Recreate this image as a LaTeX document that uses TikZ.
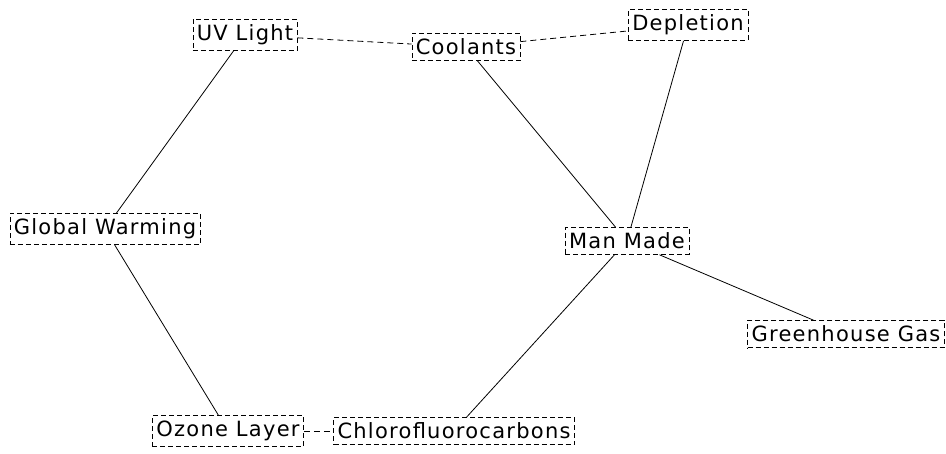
\documentclass[tikz,border=0pt]{standalone}
\usepackage{fontspec}
\setmainfont{DejaVu Sans}[LetterSpace=6]
\usetikzlibrary{calc}

\begin{document}
\begin{tikzpicture}[x=1pt, y=-1pt,
    box/.style={draw, dash pattern=on 5pt off 3pt, inner xsep=4pt, inner ysep=5.5pt, font=\fontsize{21}{24}\selectfont},
    link/.style={line width=0.8pt},
    weak/.style={line width=0.8pt, dash pattern=on 6pt off 4pt}]
  \useasboundingbox (0,0) rectangle (946,454);

  \node[box] (uv) at (245,35) {UV Light};
  \node[box] (cool) at (466,47) {Coolants};
  \node[box] (depl) at (688,25) {Depletion};
  \node[box] (gw) at (105,229) {Global Warming};
  \node[box] (man) at (627,241) {Man Made};
  \node[box] (gh) at (846,334) {Greenhouse Gas};
  \node[box] (oz) at (228,431) {Ozone Layer};
  \node[box] (cfc) at (454,431) {Chlorofluorocarbons};

  \path[weak] (uv) edge (cool);
  \path[weak] (cool) edge (depl);
  \path[weak] (oz) edge (cfc);
  \path[link] (uv) edge (gw);
  \path[link] (gw) edge (oz);
  \path[link] (cool) edge (man);
  \path[link] (depl) edge (man);
  \path[link] (cfc) edge (man);
  \path[link] (man) edge (gh);
\end{tikzpicture}
\end{document}
